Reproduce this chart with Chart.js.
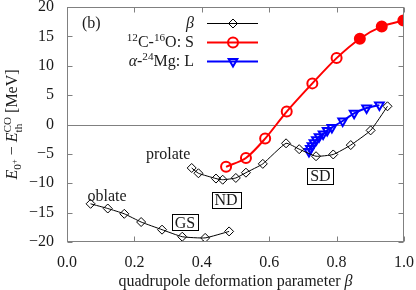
<!DOCTYPE html>
<html>
<head>
<meta charset="utf-8">
<script src="https://cdn.jsdelivr.net/npm/chart.js@4.4.1/dist/chart.umd.min.js"></script>
<style>
  html, body { margin: 0; padding: 0; background: #fff; }
  #wrap { width: 416px; height: 290px; }
</style>
</head>
<body>
<div id="wrap"><canvas id="chart" width="416" height="290"></canvas></div>
<script>
// ====================== Data ======================
// beta branch (oblate side)
const betaOblate = [0.070, 0.121, 0.170, 0.220, 0.282, 0.342, 0.410, 0.481];
const energyOblate = [-13.5, -14.3, -15.2, -16.6, -17.9, -19.1, -19.3, -18.2];

// beta branch (prolate side)
const betaProlate = [0.370, 0.390, 0.442, 0.462, 0.501, 0.531, 0.581, 0.650, 0.689, 0.739, 0.790, 0.842, 0.901, 0.951];
const energyProlate = [-7.4, -8.3, -9.2, -9.4, -9.1, -8.2, -6.7, -3.2, -4.2, -5.4, -5.1, -3.5, -1.0, 3.1];

// 12C-16O: S
const betaCO = [0.472, 0.531, 0.588, 0.652, 0.728, 0.800, 0.869, 0.934, 0.998];
const energyCO = [-7.2, -5.7, -2.4, 2.2, 7.0, 11.3, 14.6, 16.7, 17.7];
const filledCO = [false, false, false, false, false, false, true, true, true];

// alpha-24Mg: L
const betaMg = [0.718, 0.722, 0.727, 0.733, 0.740, 0.748, 0.760, 0.772, 0.786, 0.818, 0.852, 0.889, 0.927];
const energyMg = [-4.6, -4.1, -3.6, -3.1, -2.6, -2.1, -1.6, -1.0, -0.5, 0.6, 1.9, 2.8, 3.3];

const xTicks = [0, 0.2, 0.4, 0.6, 0.8, 1.0];
const yTicks = [-20, -15, -10, -5, 0, 5, 10, 15, 20];

// text labels in data units
const plainLabels = [
  { text: "prolate", x: 0.300, y: -5.1 },
  { text: "oblate", x: 0.119, y: -12.2 }
];
const boxLabels = [
  { text: "GS", x: 0.350, y: -16.6 },
  { text: "ND", x: 0.472, y: -12.8 },
  { text: "SD", x: 0.752, y: -8.7 }
];

// legend texts (rich parts)
const legendBeta = [{ t: "β", i: 1 }];
const legendCO = [{ t: "12", s: .7, dy: -.38 }, { t: "C-" }, { t: "16", s: .7, dy: -.38 }, { t: "O: S" }];
const legendMg = [{ t: "α", i: 1 }, { t: "-" }, { t: "24", s: .7, dy: -.38 }, { t: "Mg: L" }];

const SERIF = '"Liberation Serif", "DejaVu Serif", serif';
const FS = 16;
const TEXT = "#1a1a1a";
const FRAME = "#808080";

function pairs(xs, ys) {
  return xs.map((x, i) => ({ x: x, y: ys[i] }));
}

// ====================== Rich text helper ======================
function drawRich(ctx, parts, x, y, size, align) {
  let total = 0, prevStart = 0, prevW = 0;
  const lay = [];
  parts.forEach(p => {
    const s = size * (p.s || 1);
    const font = (p.i ? "italic " : "") + s + "px " + SERIF;
    ctx.font = font;
    const w = ctx.measureText(p.t).width;
    if (p.over) {
      lay.push({ p, font, x: prevStart });
      total = prevStart + Math.max(prevW, w);
    } else {
      lay.push({ p, font, x: total });
      prevStart = total; prevW = w;
      total += w;
    }
  });
  const x0 = align === "right" ? x - total : align === "center" ? x - total / 2 : x;
  ctx.textAlign = "left";
  ctx.textBaseline = "alphabetic";
  lay.forEach(l => {
    ctx.font = l.font;
    ctx.fillText(l.p.t, x0 + l.x, y + (l.p.dy || 0) * size);
  });
  return total;
}

// ====================== Decorations plugin ======================
const decor = {
  id: "decor",
  beforeDatasetsDraw(chart) {
    const { ctx, chartArea: a, scales: { y } } = chart;
    const y0 = Math.round(y.getPixelForValue(0)) + 0.5;
    ctx.save();
    ctx.strokeStyle = FRAME;
    ctx.lineWidth = 1;
    ctx.beginPath();
    ctx.moveTo(a.left, y0);
    ctx.lineTo(a.right, y0);
    ctx.stroke();
    ctx.restore();
  },
  afterDatasetsDraw(chart) {
    const { ctx, chartArea: a, scales: { x, y } } = chart;
    ctx.save();

    // frame + inner ticks
    ctx.strokeStyle = FRAME;
    ctx.lineWidth = 1;
    const L = Math.round(a.left) + 0.5, R = Math.round(a.right) - 0.5;
    const T = Math.round(a.top) + 0.5, B = Math.round(a.bottom) - 0.5;
    ctx.strokeRect(L, T, R - L, B - T);
    ctx.beginPath();
    xTicks.forEach(v => {
      const px = Math.round(x.getPixelForValue(v)) + 0.5;
      ctx.moveTo(px, B); ctx.lineTo(px, B - 5);
      ctx.moveTo(px, T); ctx.lineTo(px, T + 5);
    });
    yTicks.forEach(v => {
      const py = Math.round(y.getPixelForValue(v)) + 0.5;
      ctx.moveTo(L, py); ctx.lineTo(L + 5, py);
      ctx.moveTo(R, py); ctx.lineTo(R - 5, py);
    });
    ctx.stroke();

    ctx.fillStyle = TEXT;

    // panel tag
    drawRich(ctx, [{ t: "(b)" }], a.left + 15, a.top + 21, FS, "left");

    // plain labels
    plainLabels.forEach(l => {
      drawRich(ctx, [{ t: l.text }], x.getPixelForValue(l.x), y.getPixelForValue(l.y) + 5, FS, "center");
    });

    // boxed labels
    boxLabels.forEach(l => {
      const cx = x.getPixelForValue(l.x), cy = y.getPixelForValue(l.y);
      ctx.fillStyle = TEXT;
      const w = drawRich(ctx, [{ t: l.text }], cx, cy + 5.5, FS, "center");
      ctx.strokeStyle = "#000";
      ctx.lineWidth = 1;
      ctx.strokeRect(Math.round(cx - w / 2 - 3) + 0.5, Math.round(cy - 8) + 0.5, Math.round(w + 6), 16);
    });

    // legend
    const rows = [
      { parts: legendBeta, ds: 0, y: 23 },
      { parts: legendCO, ds: 2, y: 42 },
      { parts: legendMg, ds: 3, y: 61 }
    ];
    rows.forEach(r => {
      ctx.fillStyle = TEXT;
      drawRich(ctx, r.parts, 194, r.y + 5, FS, "right");
      const ds = chart.data.datasets[r.ds];
      ctx.strokeStyle = ds.borderColor;
      ctx.lineWidth = ds.borderWidth;
      ctx.beginPath();
      ctx.moveTo(207, r.y + 0.5);
      ctx.lineTo(258, r.y + 0.5);
      ctx.stroke();
      ctx.fillStyle = "rgba(0,0,0,0)";
      ctx.strokeStyle = ds.pointBorderColor;
      ctx.lineWidth = ds.pointBorderWidth;
      Chart.helpers.drawPoint(ctx, {
        pointStyle: ds.pointStyle,
        rotation: ds.pointRotation || 0,
        radius: ds.pointRadius,
        borderWidth: ds.pointBorderWidth
      }, 233, r.y + 0.5);
    });

    // axis titles
    ctx.fillStyle = TEXT;
    drawRich(ctx, [{ t: "quadrupole deformation parameter " }, { t: "β", i: 1 }], (a.left + a.right) / 2, 286, FS, "center");

    ctx.translate(17, (a.top + a.bottom) / 2);
    ctx.rotate(-Math.PI / 2);
    drawRich(ctx, [
      { t: "E", i: 1 }, { t: "0", s: .7, dy: .25 }, { t: "+", s: .55, dy: -.02 },
      { t: " − " },
      { t: "E", i: 1 }, { t: "th", s: .7, dy: .3 }, { t: "CO", s: .7, dy: -.4, over: 1 },
      { t: " [MeV]" }
    ], 0, 0, FS, "center");

    ctx.restore();
  }
};

// ====================== Chart ======================
const blackLine = {
  borderColor: "#000",
  borderWidth: 1,
  pointStyle: "rectRot",
  pointRadius: 4.5,
  pointBorderWidth: 1,
  pointBorderColor: "#000",
  pointBackgroundColor: "rgba(0,0,0,0)",
  showLine: true,
  tension: 0.15
};

new Chart(document.getElementById("chart"), {
  type: "scatter",
  data: {
    datasets: [
      Object.assign({ label: "β", data: pairs(betaOblate, energyOblate) }, blackLine),
      Object.assign({ label: "β prolate", data: pairs(betaProlate, energyProlate) }, blackLine),
      {
        label: "12C-16O: S",
        data: pairs(betaCO, energyCO),
        showLine: true,
        borderColor: "#ff0000",
        borderWidth: 2,
        pointStyle: "circle",
        pointRadius: 5,
        pointBorderWidth: 2,
        pointBorderColor: "#ff0000",
        pointBackgroundColor: filledCO.map(f => f ? "#ff0000" : "rgba(0,0,0,0)"),
        tension: 0.3
      },
      {
        label: "α-24Mg: L",
        data: pairs(betaMg, energyMg),
        showLine: true,
        borderColor: "#0000ff",
        borderWidth: 2,
        pointStyle: "triangle",
        pointRotation: 180,
        pointRadius: 5,
        pointBorderWidth: 2,
        pointBorderColor: "#0000ff",
        pointBackgroundColor: "rgba(0,0,0,0)",
        tension: 0.2
      }
    ]
  },
  options: {
    responsive: false,
    animation: false,
    devicePixelRatio: 1,
    layout: { padding: { left: 0, top: 7, right: 12, bottom: 0 } },
    plugins: { legend: { display: false }, tooltip: { enabled: false } },
    elements: { point: { hoverRadius: 5 } },
    scales: {
      x: {
        type: "linear",
        min: 0, max: 1,
        grid: { display: false, drawTicks: false },
        border: { display: false },
        afterFit: s => { s.height = 48; s.paddingLeft = 0; s.paddingRight = 0; },
        afterBuildTicks: s => { s.ticks = xTicks.map(v => ({ value: v })); },
        ticks: {
          padding: 11,
          color: TEXT,
          font: { family: SERIF, size: FS },
          callback: v => Number(v).toFixed(1)
        }
      },
      y: {
        type: "linear",
        min: -20, max: 20,
        grid: { display: false, drawTicks: false },
        border: { display: false },
        afterFit: s => { s.width = 67; s.paddingTop = 0; s.paddingBottom = 0; },
        afterBuildTicks: s => { s.ticks = yTicks.map(v => ({ value: v })); },
        ticks: {
          padding: 13,
          color: TEXT,
          font: { family: SERIF, size: FS },
          callback: v => (v < 0 ? "\u2212" + Math.abs(v) : String(v))
        }
      }
    }
  },
  plugins: [decor]
});
</script>
</body>
</html>
